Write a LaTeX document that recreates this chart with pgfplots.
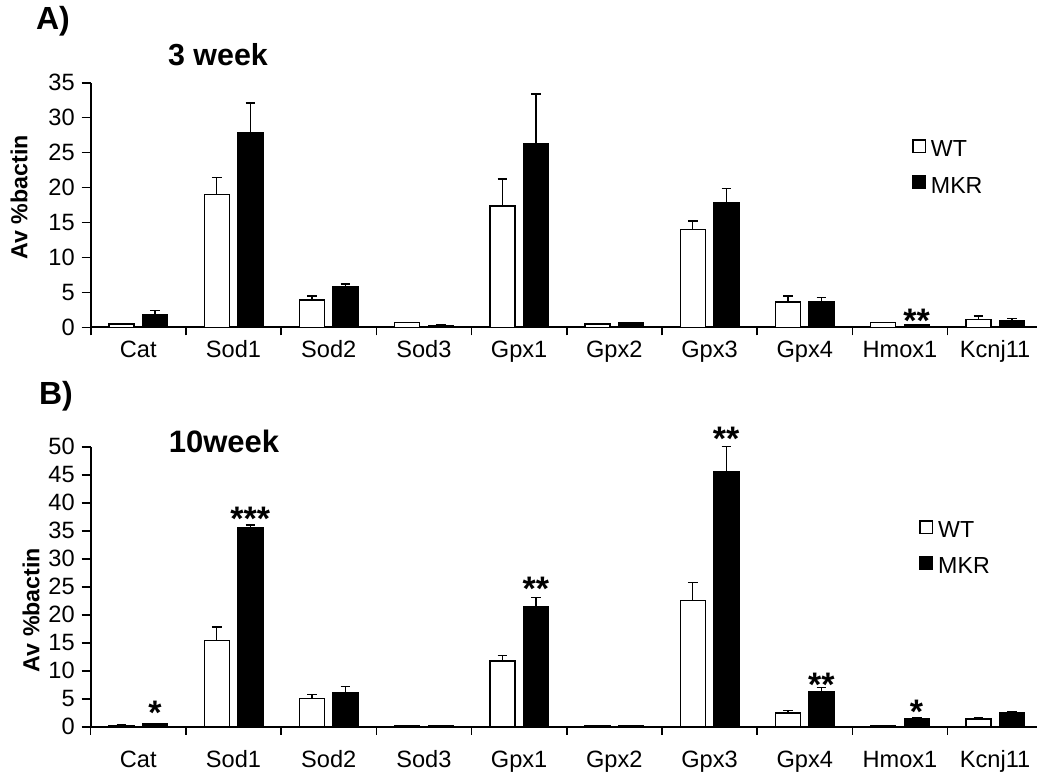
\documentclass[border=0pt]{standalone}
\usepackage{pgfplots}
\pgfplotsset{compat=1.18}
\usepackage{pgfplotstable}
\usepackage{fontspec}
\setmainfont{Liberation Sans}

\pgfplotstableread{
x  wt     wte   mkr    mkre
0  0.45   0.05  1.8    0.6
1  19.0   2.4   27.8   4.3
2  3.9    0.6   5.8    0.4
3  0.65   0.05  0.3    0.03
4  17.35  3.85  26.3   7.1
5  0.5    0.05  0.67   0.03
6  14.0   1.2   17.8   2.1
7  3.6    0.9   3.6    0.7
8  0.67   0.05  0.34   0.05
9  1.1    0.5   0.9    0.4
}\topdata

\pgfplotstableread{
x  wt     wte   mkr    mkre
0  0.25   0.05  0.5    0.05
1  15.4   2.4   35.6   0.4
2  5.0    0.8   6.1    1.1
3  0.2    0.03  0.2    0.03
4  11.7   1.0   21.5   1.6
5  0.2    0.03  0.2    0.03
6  22.5   3.2   45.6   4.4
7  2.45   0.5   6.2    0.8
8  0.2    0.03  1.4    0.2
9  1.4    0.3   2.45   0.25
}\botdata

\tikzset{sigstar/.style={font=\bfseries\fontsize{17}{19}\selectfont, anchor=center, yshift=-3.4pt}}

\pgfplotsset{
  panel/.style={
    scale only axis, width=473.15pt, xmin=-0.5, xmax=9.44, ymin=0,
    axis x line*=bottom, axis y line*=left,
    axis line style={line width=1pt, black},
    xtick={0,...,9},
    xticklabels={Cat,Sod1,Sod2,Sod3,Gpx1,Gpx2,Gpx3,Gpx4,Hmox1,Kcnj11},
    major x tick style={draw=none},
    minor xtick={-0.5,0.5,...,9.5},
    tick align=outside,
    tick style={black, line width=0.8pt},
    major tick length=4.5pt, minor tick length=4pt,
    ticklabel style={font=\fontsize{11.8}{13}\selectfont},
    /pgf/number format/assume math mode=true,
    ylabel={Av \%bactin},
    ylabel style={font=\bfseries\fontsize{11.6}{13}\selectfont, anchor=center},
    legend image code/.code={\draw[#1] (0pt,-1pt) rectangle (6.2pt,5.2pt);},
    legend cell align=left,
    legend style={draw=none, fill=none, anchor=north west, inner sep=0pt,
      font=\fontsize{11.6}{13}\selectfont, column sep=2.5pt,
      nodes={inner sep=0pt, text height=8.5pt, text depth=2pt}},
    clip=false,
  },
  wtbar/.style={ybar, bar width=12.5pt, bar shift=0pt, fill=white, draw=black, line width=0.7pt,
    error bars/.cd, y dir=plus, y explicit, error mark=|,
    error bar style={line width=0.65pt, black},
    error mark options={mark size=2.4pt, line width=0.65pt, black}},
  mkrbar/.style={ybar, bar width=12.5pt, bar shift=0pt, fill=black, draw=black, line width=0.7pt,
    error bars/.cd, y dir=plus, y explicit, error mark=|,
    error bar style={line width=0.65pt, black},
    error mark options={mark size=2.4pt, line width=0.65pt, black}},
}

\begin{document}
\begin{tikzpicture}
% Panel A
\begin{axis}[panel,
  at={(45.35pt,-163.65pt)}, anchor=south west, height=122.3pt,
  ymax=35, ytick={0,5,...,35},
  xticklabel style={text height=8.5pt, text depth=2.5pt, yshift=1.5pt},
  ylabel style={at={(axis description cs:-0.0758,0.531)}},
  title={3 week},
  title style={at={(axis description cs:0.1345,1.105)}, anchor=center, yshift=-5pt, font=\bfseries\fontsize{15.2}{17}\selectfont},
  legend style={at={(axis description cs:0.8676,0.770)}, row sep=7.25pt},
]
\addplot[wtbar] table[x expr=\thisrow{x}-0.1765, y=wt, y error=wte]{\topdata};
\addlegendentry{WT}
\addplot[mkrbar] table[x expr=\thisrow{x}+0.1765, y=mkr, y error=mkre]{\topdata};
\addlegendentry{MKR}
\node[sigstar] at (axis cs:8.175,1.9) {**};
\end{axis}

% Panel B
\begin{axis}[panel,
  at={(45.35pt,-363.35pt)}, anchor=south west, height=140pt,
  ymax=50, ytick={0,5,...,50},
  xticklabel style={text height=8.5pt, text depth=2.5pt, yshift=-4pt},
  ylabel style={at={(axis description cs:-0.0631,0.417)}},
  title={10week},
  title style={at={(axis description cs:0.1409,1.013)}, anchor=center, yshift=-5pt, font=\bfseries\fontsize{15.5}{17}\selectfont},
  legend style={at={(axis description cs:0.8753,0.739)}, row sep=7.0pt},
]
\addplot[wtbar] table[x expr=\thisrow{x}-0.1765, y=wt, y error=wte]{\botdata};
\addlegendentry{WT}
\addplot[mkrbar] table[x expr=\thisrow{x}+0.1765, y=mkr, y error=mkre]{\botdata};
\addlegendentry{MKR}
\node[sigstar] at (axis cs:0.175,3.7) {*};
\node[sigstar] at (axis cs:1.175,38.4) {***};
\node[sigstar] at (axis cs:4.175,25.9) {**};
\node[sigstar] at (axis cs:6.175,52.7) {**};
\node[sigstar] at (axis cs:7.175,8.7) {**};
\node[sigstar] at (axis cs:8.175,3.9) {*};
\end{axis}

\node[font=\bfseries\fontsize{16}{18}\selectfont] at (26.5pt,-10.5pt) {A)};
\node[font=\bfseries\fontsize{16}{18}\selectfont] at (28pt,-198pt) {B)};

\pgfresetboundingbox
\path[use as bounding box] (0,0) rectangle (518.5pt,-388pt);
\end{tikzpicture}
\end{document}
